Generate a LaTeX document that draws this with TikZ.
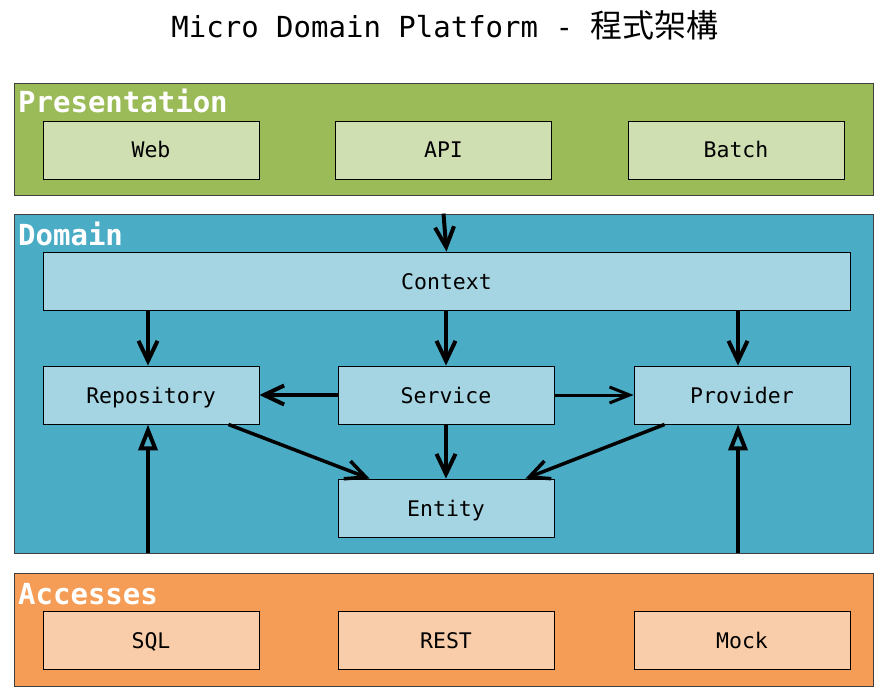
\documentclass[tikz,border=0pt]{standalone}
\usepackage{fontspec}
\setmonofont{DejaVu Sans Mono}
\newfontfamily\cjk{Noto Sans CJK TC}
\usetikzlibrary{arrows.meta}
\definecolor{presdark}{HTML}{9BBB59}
\definecolor{preslight}{HTML}{D0DFB2}
\definecolor{domdark}{HTML}{4BACC6}
\definecolor{domlight}{HTML}{A5D5E2}
\definecolor{accdark}{HTML}{F59D56}
\definecolor{acclight}{HTML}{F9CDA9}

\begin{document}
\begin{tikzpicture}[x=1pt,y=-1pt,
  layer/.style={draw=black!75, line width=0.8pt, minimum width=859pt, inner sep=0pt},
  layertitle/.style={text=white, font=\ttfamily\bfseries\fontsize{29}{29}\selectfont, inner sep=0pt, anchor=base west},
  box/.style={draw=black, line width=0.9pt, minimum width=216pt, minimum height=58pt, inner sep=0pt, text height=21.5pt, text depth=5.5pt, font=\ttfamily\fontsize{21.5}{24}\selectfont}]
\def\l{20pt}
\def\w{19pt}
\useasboundingbox (0,0) rectangle (875,687);
%title
\node [font=\ttfamily\fontsize{29}{32}\selectfont, anchor=base] (title) at (445,38) {Micro Domain Platform - {\cjk\fontsize{32}{32}\selectfont 程式架構}};
%layers
\node [layer, fill=presdark, minimum height=112pt] (pres) at (443.5,139) {};
\node [layer, fill=domdark, minimum height=339pt] (domain) at (443.5,383.5) {};
\node [layer, fill=accdark, minimum height=113pt] (access) at (443.5,629.5) {};
\node [layertitle] (presT) at (18,113) {Presentation};
\node [layertitle] (domainT) at (18,245) {Domain};
\node [layertitle] (accessT) at (18,604) {Accesses};
%presentation
\node [box, fill=preslight] (web) at (151,150) {Web};
\node [box, fill=preslight] (api) at (443.5,150) {API};
\node [box, fill=preslight] (batch) at (736,150) {Batch};
%domain
\node [box, fill=domlight, minimum width=807pt] (context) at (446.5,281) {Context};
\node [box, fill=domlight] (repo) at (151,395) {Repository};
\node [box, fill=domlight] (service) at (446,395) {Service};
\node [box, fill=domlight] (provider) at (742,395) {Provider};
\node [box, fill=domlight] (entity) at (446,508) {Entity};
%accesses
\node [box, fill=acclight] (sql) at (151,640) {SQL};
\node [box, fill=acclight] (rest) at (446,640) {REST};
\node [box, fill=acclight] (mock) at (742,640) {Mock};
%arrows
\draw [line width=4pt, -{Straight Barb[length=\l, width=\w]}](domain.north) -- (context.north);
\draw [line width=4pt, -{Straight Barb[length=\l, width=\w]}]([xshift=-3pt]repo.north |- context.south) -- ([xshift=-3pt]repo.north);
\draw [line width=4pt, -{Straight Barb[length=\l, width=\w]}](service.north |- context.south) -- (service.north);
\draw [line width=4pt, -{Straight Barb[length=\l, width=\w]}]([xshift=-4pt]provider.north |- context.south) -- ([xshift=-4pt]provider.north);
\draw [line width=4pt, -{Straight Barb[length=\l, width=\w]}](service.west) -- (repo.east);
\draw [line width=3pt, -{Straight Barb[length=\l, width=16pt]}](service.east) -- (provider.west);
\draw [line width=4pt, -{Straight Barb[length=\l, width=\w]}](service.south) -- (entity.north);
\draw [line width=3.5pt, -{Straight Barb[length=\l, width=\w]}]([xshift=-31pt]repo.south east) -- ([xshift=32pt]entity.north west);
\draw [line width=3.5pt, -{Straight Barb[length=\l, width=\w]}]([xshift=31pt]provider.south west) -- ([xshift=-29pt]entity.north east);
\draw [line width=4pt, -{Triangle[open, length=26pt, width=19pt]}]([xshift=-3pt]repo.south |- domain.south) -- ([xshift=-3pt]repo.south);
\draw [line width=4pt, -{Triangle[open, length=26pt, width=19pt]}]([xshift=-4pt]provider.south |- domain.south) -- ([xshift=-4pt]provider.south);
\end{tikzpicture}
\end{document}
